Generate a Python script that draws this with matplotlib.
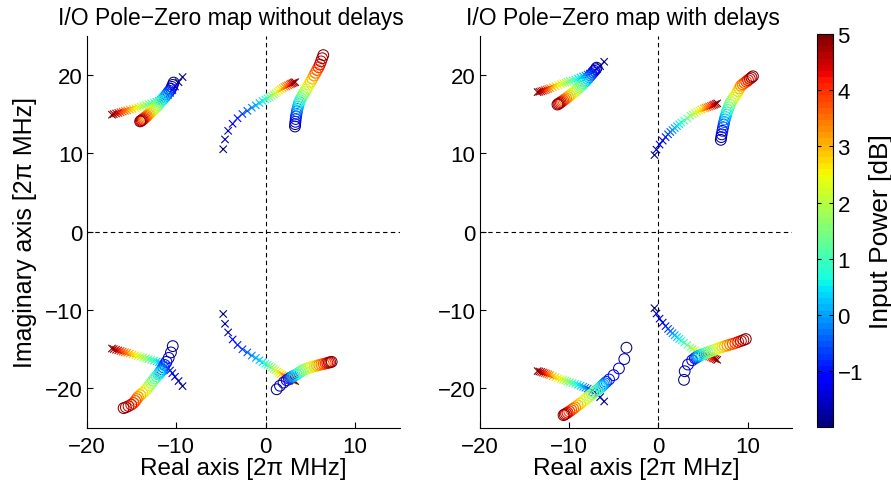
import numpy as np
import matplotlib
matplotlib.use("Agg")
import matplotlib.pyplot as plt
from matplotlib.colors import Normalize
from matplotlib.cm import ScalarMappable

plt.rcParams["font.family"] = ["Liberation Sans", "DejaVu Sans"]

# input power sweep [dB]
power_db = [-2.0, -1.75, -1.5, -1.25, -1.0, -0.75, -0.5, -0.25, 0.0, 0.25,
            0.5, 0.75, 1.0, 1.25, 1.5, 1.75, 2.0, 2.25, 2.5, 2.75,
            3.0, 3.25, 3.5, 3.75, 4.0, 4.25, 4.5, 4.75, 5.0]

# ---- without delays ----
# poles (upper half-plane; lower half is the conjugate)
nd_pole1_re = [-9.3, -9.75, -10.15, -10.45, -10.7, -10.95, -11.2, -11.45, -11.7, -11.95,
               -12.2, -12.5, -12.8, -13.1, -13.4, -13.7, -14.0, -14.3, -14.6, -14.9,
               -15.2, -15.5, -15.75, -16.0, -16.25, -16.5, -16.75, -17.0, -17.2]
nd_pole1_im = [19.7, 19.05, 18.5, 18.05, 17.7, 17.4, 17.15, 16.95, 16.8, 16.65,
               16.55, 16.45, 16.35, 16.25, 16.15, 16.05, 15.95, 15.85, 15.75, 15.65,
               15.55, 15.45, 15.38, 15.3, 15.22, 15.14, 15.06, 14.98, 14.9]
nd_pole2_re = [-4.75, -4.55, -4.2, -3.7, -3.15, -2.6, -2.05, -1.55, -1.1, -0.7,
               -0.35, -0.05, 0.2, 0.45, 0.67, 0.9, 1.1, 1.3, 1.5, 1.7,
               1.9, 2.1, 2.3, 2.5, 2.7, 2.85, 3.0, 3.15, 3.3]
nd_pole2_im = [10.5, 11.75, 12.85, 13.75, 14.45, 15.0, 15.4, 15.8, 16.1, 16.4,
               16.65, 16.85, 17.0, 17.15, 17.3, 17.5, 17.65, 17.85, 18.0, 18.15,
               18.3, 18.45, 18.55, 18.65, 18.75, 18.85, 18.92, 19.0, 19.05]
# zeros
nd_zero1_re = [-10.3, -10.4, -10.5, -10.6, -10.75, -10.9, -11.05, -11.2, -11.35, -11.5,
               -11.65, -11.8, -11.95, -12.1, -12.25, -12.4, -12.55, -12.7, -12.85, -13.0,
               -13.15, -13.3, -13.42, -13.54, -13.65, -13.76, -13.86, -13.96, -14.05]
nd_zero1_im = [19.0, 18.7, 18.45, 18.2, 17.95, 17.75, 17.5, 17.3, 17.1, 16.9,
               16.7, 16.5, 16.3, 16.1, 15.9, 15.72, 15.55, 15.38, 15.22, 15.06,
               14.9, 14.75, 14.62, 14.5, 14.39, 14.29, 14.2, 14.12, 14.05]
nd_zero2_re = [3.28, 3.3, 3.33, 3.36, 3.4, 3.45, 3.5, 3.56, 3.62, 3.69,
               3.76, 3.86, 3.97, 4.09, 4.21, 4.36, 4.52, 4.68, 4.85, 5.03,
               5.22, 5.41, 5.58, 5.75, 5.92, 6.06, 6.19, 6.32, 6.45]
nd_zero2_im = [13.4, 13.7, 14.0, 14.35, 14.7, 15.0, 15.35, 15.65, 15.95, 16.25,
               16.5, 16.75, 17.0, 17.25, 17.5, 17.8, 18.1, 18.4, 18.75, 19.1,
               19.5, 19.9, 20.25, 20.6, 20.95, 21.3, 21.7, 22.1, 22.5]
nd_zero3_re = [-10.4, -10.6, -10.85, -11.1, -11.3, -11.45, -11.6, -11.7, -11.8, -11.9,
               -12.0, -12.2, -12.4, -12.6, -12.8, -13.0, -13.2, -13.4, -13.6, -13.8,
               -14.05, -14.3, -14.45, -14.6, -14.8, -15.05, -15.35, -15.65, -15.9]
nd_zero3_im = [-14.6, -15.4, -16.1, -16.6, -17.0, -17.3, -17.55, -17.75, -17.9, -18.05,
               -18.2, -18.45, -18.7, -19.0, -19.3, -19.6, -19.9, -20.15, -20.4, -20.6,
               -20.85, -21.1, -21.35, -21.6, -21.85, -22.05, -22.25, -22.4, -22.5]
nd_zero4_re = [1.23, 1.6, 2.0, 2.35, 2.6, 2.75, 2.87, 2.98, 3.09, 3.25,
               3.45, 3.65, 3.84, 4.05, 4.25, 4.5, 4.75, 5.0, 5.25, 5.5,
               5.75, 6.0, 6.25, 6.5, 6.72, 6.9, 7.07, 7.23, 7.39]
nd_zero4_im = [-20.1, -19.65, -19.25, -18.95, -18.75, -18.65, -18.57, -18.5, -18.42, -18.32,
               -18.2, -18.05, -17.9, -17.75, -17.62, -17.5, -17.4, -17.3, -17.22, -17.15,
               -17.08, -17.0, -16.93, -16.87, -16.81, -16.75, -16.7, -16.65, -16.6]

# ---- with delays ----
wd_pole1_re = [-6.05, -6.5, -6.85, -7.15, -7.4, -7.65, -7.9, -8.15, -8.4, -8.7,
               -9.0, -9.3, -9.6, -9.9, -10.15, -10.4, -10.65, -10.9, -11.2, -11.5,
               -11.8, -12.1, -12.3, -12.5, -12.7, -12.9, -13.1, -13.3, -13.5]
wd_pole1_im = [21.65, 21.1, 20.75, 20.5, 20.3, 20.15, 20.02, 19.9, 19.78, 19.65,
               19.52, 19.4, 19.3, 19.2, 19.1, 19.0, 18.9, 18.8, 18.68, 18.55,
               18.42, 18.3, 18.2, 18.12, 18.04, 17.96, 17.89, 17.83, 17.78]
wd_pole2_re = [-0.42, -0.2, 0.15, 0.5, 0.82, 1.1, 1.35, 1.6, 1.85, 2.1,
               2.35, 2.6, 2.9, 3.25, 3.6, 3.85, 4.1, 4.35, 4.6, 4.85,
               5.1, 5.3, 5.5, 5.7, 5.9, 6.08, 6.25, 6.43, 6.6]
wd_pole2_im = [9.76, 10.45, 11.1, 11.6, 12.05, 12.4, 12.7, 12.95, 13.2, 13.45,
               13.68, 13.9, 14.15, 14.45, 14.75, 14.95, 15.12, 15.28, 15.42, 15.56,
               15.7, 15.78, 15.86, 15.94, 16.02, 16.1, 16.18, 16.27, 16.35]
wd_zero1_re = [-6.9, -7.0, -7.15, -7.3, -7.45, -7.6, -7.75, -7.9, -8.05, -8.22,
               -8.4, -8.55, -8.7, -8.85, -9.0, -9.15, -9.3, -9.5, -9.7, -9.9,
               -10.1, -10.3, -10.47, -10.63, -10.78, -10.92, -11.05, -11.17, -11.28]
wd_zero1_im = [20.9, 20.7, 20.5, 20.3, 20.1, 19.9, 19.7, 19.5, 19.3, 19.1,
               18.9, 18.72, 18.55, 18.38, 18.22, 18.05, 17.9, 17.7, 17.52, 17.34,
               17.16, 16.98, 16.84, 16.71, 16.59, 16.48, 16.38, 16.29, 16.2]
wd_zero2_re = [7.0, 7.05, 7.1, 7.18, 7.26, 7.32, 7.38, 7.45, 7.52, 7.6,
               7.67, 7.78, 7.89, 8.0, 8.12, 8.28, 8.44, 8.6, 8.77, 8.93,
               9.09, 9.25, 9.45, 9.65, 9.85, 10.05, 10.25, 10.43, 10.6]
wd_zero2_im = [11.7, 12.05, 12.4, 12.85, 13.3, 13.65, 13.97, 14.3, 14.6, 14.9,
               15.2, 15.52, 15.85, 16.18, 16.5, 16.78, 17.05, 17.32, 17.6, 17.92,
               18.27, 18.6, 18.78, 18.95, 19.12, 19.3, 19.48, 19.65, 19.8]
wd_zero3_re = [-3.56, -3.8, -4.4, -5.0, -5.5, -5.8, -5.98, -6.13, -6.27, -6.38,
               -6.5, -6.72, -6.95, -7.18, -7.42, -7.68, -7.94, -8.2, -8.46, -8.74,
               -9.02, -9.3, -9.52, -9.74, -9.95, -10.15, -10.32, -10.47, -10.6]
wd_zero3_im = [-14.8, -16.25, -17.45, -18.3, -18.85, -19.15, -19.33, -19.5, -19.65, -19.78,
               -19.9, -20.1, -20.3, -20.5, -20.7, -20.95, -21.2, -21.45, -21.68, -21.92,
               -22.16, -22.4, -22.58, -22.76, -22.93, -23.08, -23.2, -23.3, -23.4]
wd_zero4_re = [2.88, 2.96, 3.33, 3.8, 4.1, 4.25, 4.37, 4.47, 4.56, 4.7,
               4.9, 5.1, 5.3, 5.5, 5.72, 6.0, 6.3, 6.6, 6.92, 7.2,
               7.48, 7.75, 8.05, 8.35, 8.65, 8.95, 9.25, 9.53, 9.8]
wd_zero4_im = [-18.9, -17.8, -16.95, -16.4, -16.15, -16.05, -15.97, -15.9, -15.83, -15.76,
               -15.68, -15.6, -15.5, -15.42, -15.32, -15.2, -15.07, -14.93, -14.8, -14.7,
               -14.6, -14.5, -14.4, -14.3, -14.2, -14.07, -13.95, -13.83, -13.7]

cmap = plt.get_cmap("jet", 64)
norm = Normalize(vmin=-2, vmax=5)
colors = cmap(norm(power_db))

panels = [
    ("I/O Pole\u2212Zero map without delays",
     [(nd_pole1_re, nd_pole1_im), (nd_pole2_re, nd_pole2_im)],
     [(nd_zero1_re, nd_zero1_im), (nd_zero2_re, nd_zero2_im),
      (nd_zero3_re, nd_zero3_im), (nd_zero4_re, nd_zero4_im)]),
    ("I/O Pole\u2212Zero map with delays",
     [(wd_pole1_re, wd_pole1_im), (wd_pole2_re, wd_pole2_im)],
     [(wd_zero1_re, wd_zero1_im), (wd_zero2_re, wd_zero2_im),
      (wd_zero3_re, wd_zero3_im), (wd_zero4_re, wd_zero4_im)]),
]

fig = plt.figure(figsize=(8.91, 4.81), dpi=100)
ax_pos = [[0.0976, 0.1087, 0.351, 0.8154],
          [0.5382, 0.1087, 0.351, 0.8154]]

for k, (title, poles, zeros) in enumerate(panels):
    ax = fig.add_axes(ax_pos[k])
    ax.axvline(0, color="k", ls=(0, (4, 3)), lw=0.8, zorder=1)
    ax.axhline(0, color="k", ls=(0, (4, 3)), lw=0.8, zorder=1)

    for re, im in poles:
        re = np.array(re)
        im = np.array(im)
        # conjugate pairs
        for sign in (1, -1):
            ax.scatter(re, sign * im, marker="x", s=28, c=colors,
                       linewidths=0.8, zorder=3)
    for re, im in zeros:
        ax.scatter(re, im, marker="o", s=60, facecolors="none",
                   edgecolors=colors, linewidths=0.75, zorder=3)

    ax.set_xlim(-20, 15)
    ax.set_ylim(-25, 25)
    ax.set_xticks([-20, -10, 0, 10])
    ax.set_yticks([-20, -10, 0, 10, 20])
    for side in ("top", "right"):
        ax.spines[side].set_visible(False)
    for side in ("left", "bottom"):
        ax.spines[side].set_linewidth(0.8)
    ax.tick_params(direction="in", length=4, width=0.8, labelsize=16)
    ax.tick_params(axis="x", pad=6)
    ax.tick_params(axis="y", pad=3)
    ax.set_title(title, fontsize=16.5, pad=8, x=0.46)
    ax.set_xlabel("Real axis [2\u03c0 MHz]", fontsize=17.5, labelpad=0)
    if k == 0:
        ax.set_ylabel("Imaginary axis [2\u03c0 MHz]", fontsize=18, labelpad=6)

cax = fig.add_axes([0.9173, 0.1096, 0.018, 0.8177])
sm = ScalarMappable(norm=norm, cmap=cmap)
cb = fig.colorbar(sm, cax=cax)
cb.set_ticks([-1, 0, 1, 2, 3, 4, 5])
cb.outline.set_linewidth(0.8)
cax.tick_params(direction="in", length=3, width=0.8, labelsize=16,
                left=True, right=True, pad=3)
cb.set_label("Input Power [dB]", fontsize=19, labelpad=4)

fig.savefig("out.png", dpi=100)
